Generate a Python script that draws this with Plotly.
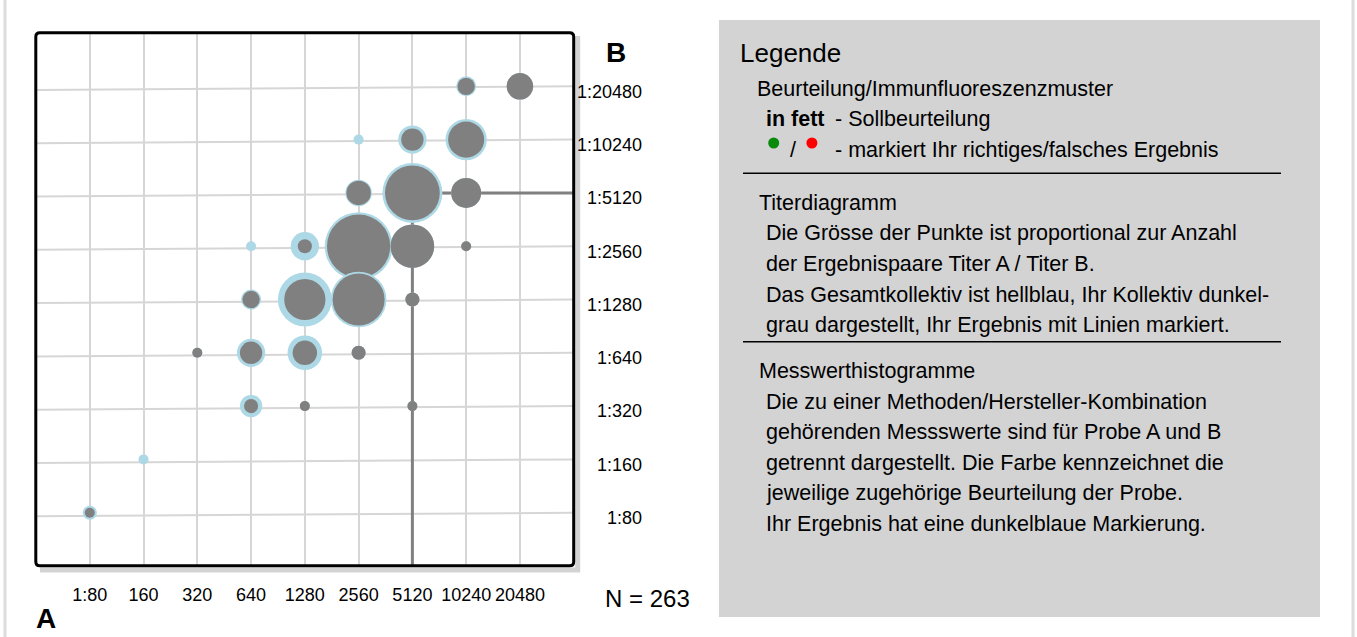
import numpy as np
import plotly.graph_objects as go

# ---------------- data ----------------
titers = [80, 160, 320, 640, 1280, 2560, 5120, 10240, 20480]
x_tick_labels = ["1:80", "160", "320", "640", "1280", "2560", "5120", "10240", "20480"]
y_tick_labels = ["1:80", "1:160", "1:320", "1:640", "1:1280", "1:2560", "1:5120", "1:10240", "1:20480"]

# result pairs: titer A, titer B, count in total collective (light blue), count in own collective (grey)
cell_a = [10240, 20480, 2560, 5120, 10240, 2560, 5120, 10240, 640, 1280, 2560, 5120, 10240,
          640, 1280, 2560, 5120, 320, 640, 1280, 2560, 640, 1280, 5120, 160, 80]
cell_b = [20480, 20480, 10240, 10240, 10240, 5120, 5120, 5120, 2560, 2560, 2560, 2560, 2560,
          1280, 1280, 1280, 1280, 640, 640, 640, 640, 320, 320, 320, 160, 80]
count_total = [4, 7, 1, 8, 17, 7, 36, 9, 1, 8, 46, 19, 1, 4, 29, 31, 2, 1, 8, 12, 2, 5, 1, 1, 1, 2]
count_own = [3, 7, 0, 5, 13, 6, 30, 9, 0, 2, 40, 19, 1, 3, 17, 27, 2, 1, 5, 6, 2, 2, 1, 1, 0, 1]

own_result_a = 5120
own_result_b = 5120
n_total = 263

legend_title = "Legende"
legend_lines = [
    "Beurteilung/Immunfluoreszenzmuster",
    "in fett", "- Sollbeurteilung",
    "/", "- markiert Ihr richtiges/falsches Ergebnis",
    "Titerdiagramm",
    "Die Grösse der Punkte ist proportional zur Anzahl",
    "der Ergebnispaare Titer A / Titer B.",
    "Das Gesamtkollektiv ist hellblau, Ihr Kollektiv dunkel-",
    "grau dargestellt, Ihr Ergebnis mit Linien markiert.",
    "Messwerthistogramme",
    "Die zu einer Methoden/Hersteller-Kombination",
    "gehörenden Messswerte sind für Probe A und B",
    "getrennt dargestellt. Die Farbe kennzeichnet die",
    "jeweilige zugehörige Beurteilung der Probe.",
    "Ihr Ergebnis hat eine dunkelblaue Markierung.",
]

# ---------------- styling / layout helpers ----------------
FONT = "Liberation Sans, Arial, Helvetica, sans-serif"
W, H = 1357, 637
ML, MR_PX, MT, MB_PX = 36, 650, 33, 566     # paper area in pixels
PW, PH = MR_PX - ML, MB_PX - MT


def px(x):
    return (x - ML) / PW


def py(y):
    return (MB_PX - y) / PH


PLOT_RIGHT = 573.7
LIGHTBLUE = "#add8e6"
GREY = "#808080"
GRID = "#d6d6d6"

lx = np.log2(titers)
rng = [np.log2(titers[0] / 2), np.log2(titers[-1] * 2)]

# drawing order: rows from top to bottom, left to right; light blue then grey per cell
order = sorted(range(len(cell_a)), key=lambda i: (-cell_b[i], cell_a[i]))
bx, by, bs, bc = [], [], [], []
for i in order:
    bx.append(np.log2(cell_a[i])); by.append(np.log2(cell_b[i]))
    bs.append(count_total[i]); bc.append(LIGHTBLUE)
    if count_own[i] > 0:
        bx.append(np.log2(cell_a[i])); by.append(np.log2(cell_b[i]))
        bs.append(count_own[i]); bc.append(GREY)

fig = go.Figure()

# own result lines
fig.add_trace(go.Scatter(
    x=[np.log2(own_result_a), np.log2(own_result_a), rng[1]],
    y=[rng[0], np.log2(own_result_b), np.log2(own_result_b)],
    mode="lines", line=dict(color=GREY, width=3), hoverinfo="skip", showlegend=False,
))

fig.add_trace(go.Scatter(
    x=bx, y=by, mode="markers",
    marker=dict(size=bs, sizemode="area", sizeref=0.02, color=bc, line=dict(width=0), opacity=1),
    hoverinfo="skip", showlegend=False,
))

shapes = []
# slightly slanted horizontal grid lines
for v in lx:
    shapes.append(dict(type="line", xref="x domain", yref="y", x0=0, x1=1, y0=v - 0.068, y1=v,
                       line=dict(color=GRID, width=2), layer="below"))

# shadow of plot frame
shapes.append(dict(type="path", xref="paper", yref="paper",
                   path=f"M {px(577.7)},{py(36)} L {px(577.7)},{py(570)} L {px(40)},{py(570)}",
                   line=dict(color="#d3d3d3", width=5), layer="below"))

# rounded black frame
x0, x1, yt, yb = px(35.8), px(PLOT_RIGHT), py(32.8), py(565.8)
rx, ry = 4 / PW, 4 / PH
frame = (f"M {x0+rx},{yt} L {x1-rx},{yt} Q {x1},{yt} {x1},{yt-ry} L {x1},{yb+ry} "
         f"Q {x1},{yb} {x1-rx},{yb} L {x0+rx},{yb} Q {x0},{yb} {x0},{yb+ry} "
         f"L {x0},{yt-ry} Q {x0},{yt} {x0+rx},{yt} Z")
shapes.append(dict(type="path", xref="paper", yref="paper", path=frame,
                   line=dict(color="black", width=3), layer="above"))

# page side stripes
for xs in (5, 1353):
    shapes.append(dict(type="line", xref="paper", yref="paper", x0=px(xs), x1=px(xs),
                       y0=py(0), y1=py(H), line=dict(color="#dcdcdc", width=3), layer="below"))

# legend panel
shapes.append(dict(type="rect", xref="paper", yref="paper", x0=px(719), x1=px(1320),
                   y0=py(20), y1=py(617), fillcolor="#d3d3d3", line=dict(width=0), layer="below"))
for ys in (173.3, 341.7):
    shapes.append(dict(type="line", xref="paper", yref="paper", x0=px(743), x1=px(1281),
                       y0=py(ys), y1=py(ys), line=dict(color="black", width=1.6), layer="above"))
for xc, col in ((773.7, "#0a8a0a"), (811.9, "#ff0000")):
    shapes.append(dict(type="circle", xref="paper", yref="paper", xsizemode="pixel", ysizemode="pixel",
                       xanchor=px(xc), yanchor=py(143), x0=-5.5, x1=5.5, y0=-5.5, y1=5.5,
                       fillcolor=col, line=dict(width=0), layer="above"))

annotations = []


def text(t, x, y, size, anchor="left", bold=False):
    annotations.append(dict(text=f"<b>{t}</b>" if bold else t, x=px(x), y=py(y), xref="paper", yref="paper",
                            xanchor=anchor, yanchor="middle", showarrow=False,
                            font=dict(family=FONT, size=size, color="black")))


text("B", 616, 52, 28, "center", True)
text("A", 46, 618, 28, "center", True)
text(f"N = {n_total}", 647.5, 598, 24, "center")

LS = 21.5
text(legend_title, 738, 53, 26)
text(legend_lines[0], 755, 89, LS)
text(legend_lines[1], 764, 119, LS, bold=True)
text(legend_lines[2], 833, 119, LS)
text(legend_lines[3], 788, 150, LS)
text(legend_lines[4], 833, 150, LS)
text(legend_lines[5], 757, 203, LS)
for k, ycen in enumerate([233.5, 264.2, 294.8, 325.3]):
    text(legend_lines[6 + k], 764, ycen, LS)
text(legend_lines[10], 757, 371, LS)
for k, ycen in enumerate([401.7, 431.8, 462.5, 493.2, 523.5]):
    text(legend_lines[11 + k], 764, ycen, LS)

fig.update_layout(
    width=W, height=H,
    margin=dict(l=ML, r=W - MR_PX, t=MT, b=H - MB_PX, pad=0),
    paper_bgcolor="white", plot_bgcolor="white",
    font=dict(family=FONT, color="black"),
    showlegend=False,
    shapes=shapes, annotations=annotations,
    xaxis=dict(domain=[0, px(PLOT_RIGHT)], range=rng, tickmode="array", tickvals=lx,
               ticktext=x_tick_labels, showgrid=True, gridcolor=GRID, gridwidth=2,
               zeroline=False, showline=False, ticks="", tickfont=dict(size=18),
               ticklabelstandoff=16, fixedrange=True),
    yaxis=dict(range=rng, tickmode="array", tickvals=lx, ticktext=y_tick_labels,
               anchor="free", position=px(642), side="left", showgrid=False, zeroline=False,
               showline=False, ticks="", tickfont=dict(size=18), ticklabelshift=5,
               fixedrange=True),
)

fig.write_html("out.html", config={"displayModeBar": False},
               post_script="document.body.style.margin='0px';document.body.style.overflow='hidden';")
